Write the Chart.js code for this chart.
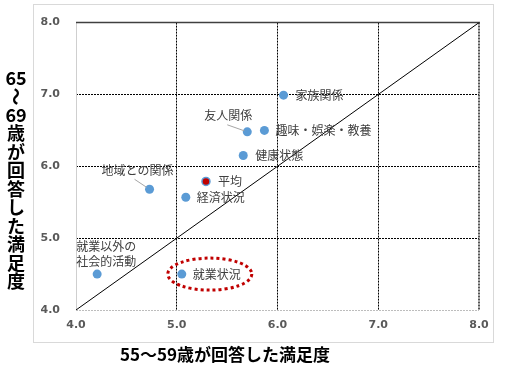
<!DOCTYPE html>
<html>
<head>
<meta charset="utf-8">
<script src="https://cdn.jsdelivr.net/npm/chart.js"></script>
<style>
  html, body { margin: 0; padding: 0; background: #fff; }
  #wrap { position: relative; width: 508px; height: 367px; }
</style>
</head>
<body>
<div id="wrap"><canvas id="chart"></canvas></div>
<script>
// satisfaction: x = answered by 55-59, y = answered by 65-69
const categories = ['家族関係', '友人関係', '趣味・娯楽・教養', '健康状態', '経済状況', '地域との関係', '就業以外の社会的活動', '就業状況'];
const score5559 = [6.06, 5.70, 5.87, 5.66, 5.09, 4.73, 4.21, 5.05];
const score6569 = [6.99, 6.48, 6.50, 6.15, 5.57, 5.68, 4.50, 4.50];
const avgLabel = '平均';
const avg5559 = 5.29;
const avg6569 = 5.79;
const tickValues = [4, 5, 6, 7, 8];
const xTitle = '55～59歳が回答した満足度';
const yTitle = ['65', '～', '69', '歳', 'が', '回', '答', 'し', 'た', '満', '足', '度'];

// label placement (pixel offsets from the point: dx, dy, optional leader line)
const labelPlace = {
  '家族関係': { dx: 12, dy: 0 },
  '友人関係': { dx: -43, dy: -16, lead: [-20, -7, -3, -1] },
  '趣味・娯楽・教養': { dx: 11, dy: 0 },
  '健康状態': { dx: 12, dy: 0 },
  '経済状況': { dx: 11, dy: 0 },
  '地域との関係': { dx: -48, dy: -19, lead: [-15, -10, -3, -2] },
  '就業以外の社会的活動': { dx: -21, dy: -28, lines: ['就業以外の', '社会的活動'] },
  '就業状況': { dx: 11, dy: 0, ellipse: [28, 0, 42, 16] },
  '平均': { dx: 12, dy: 0 }
};

const JP = '"Noto Sans CJK JP", "Noto Sans", sans-serif';

const decorPlugin = {
  id: 'decor',
  beforeDraw(chart) {
    const ctx = chart.ctx;
    ctx.save();
    ctx.fillStyle = '#fff';
    ctx.fillRect(0, 0, chart.width, chart.height);
    ctx.strokeStyle = '#d9d9d9';
    ctx.lineWidth = 1;
    ctx.strokeRect(33.5, 4.5, 460, 338);
    ctx.restore();
  },
  beforeDatasetsDraw(chart) {
    const ctx = chart.ctx;
    const a = chart.chartArea;
    ctx.save();
    // left edge
    ctx.strokeStyle = '#cfcfcf';
    ctx.lineWidth = 1;
    ctx.beginPath(); ctx.moveTo(a.left + 0.5, a.top); ctx.lineTo(a.left + 0.5, a.bottom); ctx.stroke();
    // bottom edge
    ctx.strokeStyle = '#bdbdbd';
    ctx.setLineDash([2, 1]);
    ctx.beginPath(); ctx.moveTo(a.left, a.bottom + 0.5); ctx.lineTo(a.right, a.bottom + 0.5); ctx.stroke();
    // right edge
    ctx.strokeStyle = '#555';
    ctx.lineWidth = 2;
    ctx.setLineDash([2, 1]);
    ctx.beginPath(); ctx.moveTo(a.right, a.top); ctx.lineTo(a.right, a.bottom); ctx.stroke();
    // top edge
    ctx.setLineDash([]);
    ctx.strokeStyle = '#404040';
    ctx.lineWidth = 1.5;
    ctx.beginPath(); ctx.moveTo(a.left, a.top); ctx.lineTo(a.right + 1, a.top); ctx.stroke();
    ctx.restore();
  },
  afterDraw(chart) {
    const ctx = chart.ctx;
    const xs = chart.scales.x, ys = chart.scales.y;
    ctx.save();
    ctx.textBaseline = 'middle';
    ctx.textAlign = 'left';
    ctx.font = '12px ' + JP;
    ctx.fillStyle = '#404040';

    const pts = categories.map((c, i) => ({ name: c, x: score5559[i], y: score6569[i] }));
    pts.push({ name: avgLabel, x: avg5559, y: avg6569 });

    pts.forEach(p => {
      const px = xs.getPixelForValue(p.x), py = ys.getPixelForValue(p.y);
      const pl = labelPlace[p.name];
      if (pl.lead) {
        ctx.strokeStyle = '#a6a6a6';
        ctx.lineWidth = 1;
        ctx.beginPath();
        ctx.moveTo(px + pl.lead[0], py + pl.lead[1]);
        ctx.lineTo(px + pl.lead[2], py + pl.lead[3]);
        ctx.stroke();
      }
      const lines = pl.lines || [p.name];
      lines.forEach((t, k) => ctx.fillText(t, px + pl.dx, py + pl.dy + k * 15));
      if (pl.ellipse) {
        const e = pl.ellipse;
        ctx.strokeStyle = '#c00000';
        ctx.lineWidth = 3;
        ctx.setLineDash([3, 3]);
        ctx.beginPath();
        ctx.ellipse(px + e[0], py + e[1], e[2], e[3], 0, 0, Math.PI * 2);
        ctx.stroke();
        ctx.setLineDash([]);
      }
    });

    // axis titles
    ctx.fillStyle = '#000';
    ctx.font = 'bold 17px ' + JP;
    ctx.textAlign = 'center';
    ctx.fillText(xTitle, 225, 355);

    ctx.font = 'bold 18px ' + JP;
    let y = 78;
    yTitle.forEach(ch => {
      if (ch === '～') {
        ctx.save();
        ctx.translate(16, y);
        ctx.rotate(Math.PI / 2);
        ctx.fillText(ch, 0, 0);
        ctx.restore();
      } else {
        ctx.fillText(ch, 16, y);
      }
      y += ch === '～' ? 18.5 : 18.5;
    });
    ctx.restore();
  }
};

const edgeGrid = (ctx) => {
  const v = ctx.tick && ctx.tick.value;
  return (v === 4 || v === 8) ? 'rgba(0,0,0,0)' : '#000';
};

new Chart(document.getElementById('chart'), {
  type: 'scatter',
  data: {
    datasets: [
      {
        label: 'items',
        data: categories.map((c, i) => ({ x: score5559[i], y: score6569[i] })),
        backgroundColor: '#5b9bd5',
        borderColor: '#5b9bd5',
        borderWidth: 0,
        pointRadius: 4.5
      },
      {
        label: avgLabel,
        data: [{ x: avg5559, y: avg6569 }],
        backgroundColor: '#c00000',
        borderColor: '#5b9bd5',
        borderWidth: 1.5,
        pointRadius: 4
      },
      {
        label: 'diag',
        type: 'line',
        data: [{ x: 4, y: 4 }, { x: 8, y: 8 }],
        borderColor: '#000',
        borderWidth: 1,
        pointRadius: 0,
        fill: false
      }
    ]
  },
  options: {
    responsive: true,
    maintainAspectRatio: false,
    animation: false,
    layout: { padding: { left: 40, right: 29, top: 19, bottom: 17 } },
    plugins: {
      legend: { display: false },
      tooltip: { enabled: false }
    },
    scales: {
      x: {
        type: 'linear',
        min: 4, max: 8,
        afterBuildTicks: s => { s.ticks = tickValues.map(v => ({ value: v })); },
        afterFit: s => { s.height = 40; },
        ticks: {
          padding: 9,
          color: '#595959',
          font: { family: 'DejaVu Sans', size: 11, weight: 'bold' },
          callback: v => Number(v).toFixed(1)
        },
        grid: { color: edgeGrid, lineWidth: 1, drawTicks: false },
        border: { display: false, dash: [2, 1] }
      },
      y: {
        type: 'linear',
        min: 4, max: 8,
        afterBuildTicks: s => { s.ticks = tickValues.map(v => ({ value: v })); },
        afterFit: s => { s.width = 36; },
        ticks: {
          padding: 16,
          color: '#595959',
          font: { family: 'DejaVu Sans', size: 11, weight: 'bold' },
          callback: v => Number(v).toFixed(1)
        },
        grid: { color: edgeGrid, lineWidth: 1, drawTicks: false },
        border: { display: false, dash: [2, 1] }
      }
    }
  },
  plugins: [decorPlugin]
});
</script>
</body>
</html>
